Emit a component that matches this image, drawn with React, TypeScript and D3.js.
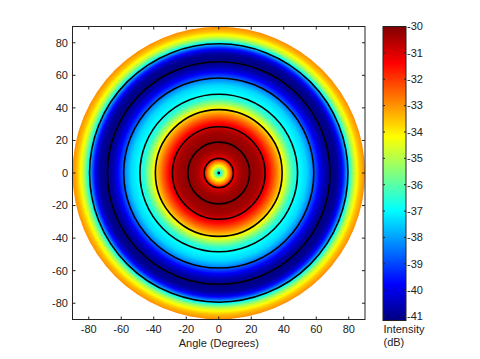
import React from "react";
import * as d3 from "d3";

// Radial intensity profile (radius in degrees -> intensity in dB)
const PROFILE_R = [0, 1.5, 2.5, 3.5, 4.5, 5.5, 6.5, 7.5, 8.5, 10, 12, 15, 20, 25, 28, 31, 34, 37, 40, 43, 46, 50, 54, 57, 60, 63, 66, 70, 73, 75, 77, 79, 81, 83, 85, 87, 90];
const PROFILE_DB = [-37, -36.5, -35.5, -34.7, -34.2, -33.5, -33, -32.3, -31.5, -31, -30.6, -30.3, -30.2, -30.4, -30.8, -31.5, -32.3, -33.2, -34.2, -35.4, -36.5, -37, -37.4, -38.1, -39.1, -40.1, -40.8, -41.1, -40.9, -40.3, -39.3, -37.8, -36.3, -35, -34.2, -33.5, -32.9];
// Overlaid black rings (degrees)
const RING_RADII = [9, 19, 28.5, 39, 48.5, 58.5, 68.5, 79.5];
const X_TICKS = [-80, -60, -40, -20, 0, 20, 40, 60, 80];
const Y_TICKS = [-80, -60, -40, -20, 0, 20, 40, 60, 80];
const CB_TICKS = [-30, -31, -32, -33, -34, -35, -36, -37, -38, -39, -40, -41];
const CB_DOMAIN = [-41.15, -30];

function jet(t: number): string {
  const c = (v: number) => Math.max(0, Math.min(1, v));
  const r = c(1.5 - Math.abs(4 * t - 3));
  const g = c(1.5 - Math.abs(4 * t - 2));
  const b = c(1.5 - Math.abs(4 * t - 1));
  return d3.rgb(r * 255, g * 255, b * 255).formatHex();
}

export default function App() {
  const W = 480, H = 359;
  const L = 72.5, R = 365, T = 26.5, B = 319.5;
  const x = d3.scaleLinear().domain([-90, 90]).range([L, R]);
  const y = d3.scaleLinear().domain([-90, 90]).range([B, T]);
  const profile = d3.scaleLinear().domain(PROFILE_R).range(PROFILE_DB).clamp(true);
  const cnorm = d3.scaleLinear().domain(CB_DOMAIN).range([0, 1]).clamp(true);
  const color = (v: number) => jet(cnorm(v));

  const cx = x(0), cy = y(0);
  const rpx = x(90) - x(0);
  const stops = d3.range(0, 90.01, 0.5).map((r) => ({ off: r / 90, col: color(profile(r)) }));

  const cbX0 = 383, cbX1 = 406, cbT = 26.5, cbB = 320.5;
  const cy2 = d3.scaleLinear().domain(CB_DOMAIN).range([cbB, cbT]);
  const cbStops = d3.range(0, 1.0001, 1 / 64).map((t) => ({ off: t, col: jet(t) }));

  const font = "'Liberation Sans', Arial, Helvetica, sans-serif";
  const tl = 3;

  return (
    <svg width={W} height={H} style={{ position: "absolute", left: 0, top: 0, background: "#fff" }} fontFamily={font}>
      <defs>
        <radialGradient id="rg" gradientUnits="userSpaceOnUse" cx={cx} cy={cy} r={rpx}>
          {stops.map((s, i) => (
            <stop key={i} offset={s.off} stopColor={s.col} />
          ))}
        </radialGradient>
        <linearGradient id="cbg" x1="0" y1="1" x2="0" y2="0">
          {cbStops.map((s, i) => (
            <stop key={i} offset={s.off} stopColor={s.col} />
          ))}
        </linearGradient>
      </defs>
      <rect width={W} height={H} fill="#fff" />
      <circle cx={cx} cy={cy} r={rpx} fill="url(#rg)" />
      {RING_RADII.map((r, i) => (
        <circle key={i} cx={cx} cy={cy} r={x(r) - x(0)} fill="none" stroke="#000" strokeWidth={1.6} />
      ))}
      <circle cx={cx} cy={cy} r={1.4} fill="#000" />

      {/* axes box */}
      <rect x={L} y={T} width={R - L} height={B - T} fill="none" stroke="#222" strokeWidth={1} />
      {X_TICKS.map((t) => (
        <g key={"x" + t}>
          <line x1={x(t)} x2={x(t)} y1={B} y2={B - tl} stroke="#222" />
          <line x1={x(t)} x2={x(t)} y1={T} y2={T + tl} stroke="#222" />
          <text x={x(t)} y={333} fontSize={11} textAnchor="middle" fill="#222">{t}</text>
        </g>
      ))}
      {Y_TICKS.map((t) => (
        <g key={"y" + t}>
          <line x1={L} x2={L + tl} y1={y(t)} y2={y(t)} stroke="#222" />
          <line x1={R} x2={R - tl} y1={y(t)} y2={y(t)} stroke="#222" />
          <text x={68} y={y(t)} dy="0.35em" fontSize={11} textAnchor="end" fill="#222">{t}</text>
        </g>
      ))}
      <text x={x(0)} y={347} fontSize={11} textAnchor="middle" fill="#222">Angle (Degrees)</text>

      {/* colorbar */}
      <rect x={cbX0} y={cbT} width={cbX1 - cbX0} height={cbB - cbT} fill="url(#cbg)" />
      <rect x={cbX0} y={cbT} width={cbX1 - cbX0} height={cbB - cbT} fill="none" stroke="#222" strokeWidth={1} />
      {CB_TICKS.map((t) => (
        <g key={"c" + t}>
          <line x1={cbX0} x2={cbX0 + 2} y1={cy2(t)} y2={cy2(t)} stroke="#222" />
          <line x1={cbX1} x2={cbX1 - 2} y1={cy2(t)} y2={cy2(t)} stroke="#222" />
          <text x={407} y={cy2(t)} dy="0.35em" fontSize={11} fill="#222">{t}</text>
        </g>
      ))}
      <text x={383.5} y={333} fontSize={11} fill="#222">Intensity</text>
      <text x={383.5} y={346} fontSize={11} fill="#222">(dB)</text>
    </svg>
  );
}
